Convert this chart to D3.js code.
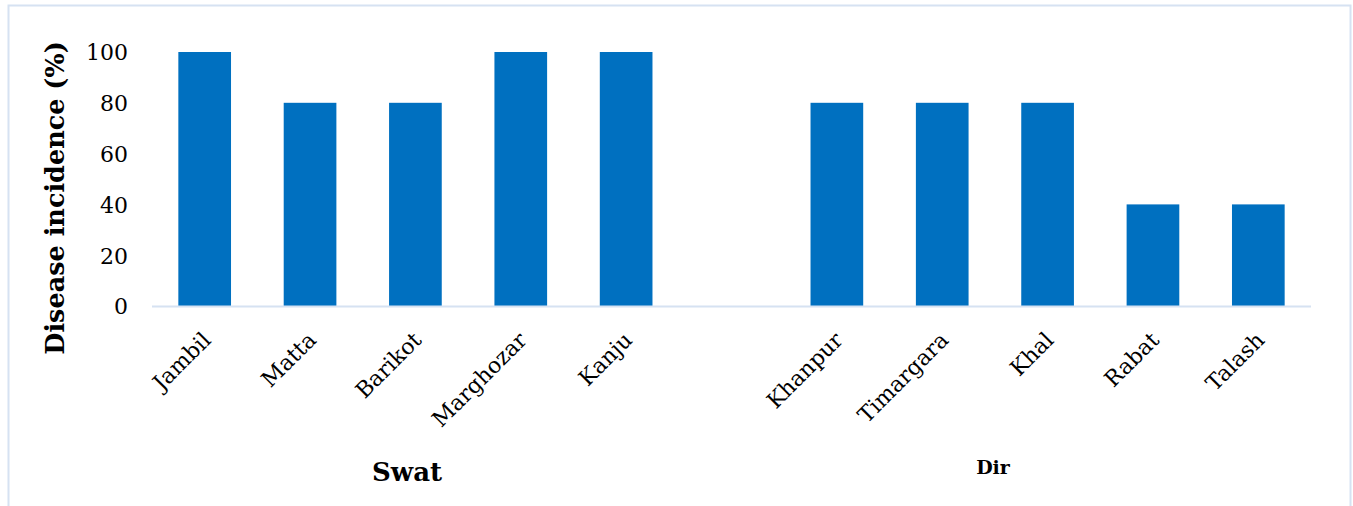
<!DOCTYPE html>
<html><head><meta charset="utf-8">
<script src="https://cdn.jsdelivr.net/npm/d3@7"></script>
<style>body{margin:0;background:#fff}svg{display:block}</style>
</head><body>
<script>
const categories = ["Jambil","Matta","Barikot","Marghozar","Kanju","","Khanpur","Timargara","Khal","Rabat","Talash"];
const values = [100,80,80,100,100,null,80,80,80,40,40];
const yTicks = [0,20,40,60,80,100];
const groups = [{name:"Swat", from:"Jambil", to:"Kanju"},{name:"Dir", from:"Khanpur", to:"Talash"}];

const W=1353,H=506;
const svg=d3.select("body").append("svg").attr("width",W).attr("height",H);
svg.append("rect").attr("x",8.5).attr("y",5.5).attr("width",1342).attr("height",510)
  .attr("fill","#fff").attr("stroke","#d6e2f2").attr("stroke-width",2);

const x=d3.scaleBand().domain(categories.map((c,i)=>i)).range([152,1311]).paddingInner(0.5).paddingOuter(0.25);
const y=d3.scaleLinear().domain([0,100]).range([306,52]);
const font="'DejaVu Serif', 'Liberation Serif', serif";

svg.append("g").selectAll("rect").data(values.map((v,i)=>({v,i})).filter(d=>d.v!=null)).join("rect")
  .attr("x",d=>x(d.i)).attr("width",x.bandwidth()).attr("y",d=>y(d.v)).attr("height",d=>y(0)-y(d.v))
  .attr("fill","#0070c0");

svg.append("line").attr("x1",152).attr("x2",1311).attr("y1",y(0)+0.5).attr("y2",y(0)+0.5)
  .attr("stroke","#d6e2f2").attr("stroke-width",2);

const ya=svg.append("g").attr("transform","translate(128,0)")
  .call(d3.axisLeft(y).tickValues(yTicks).tickSize(0).tickPadding(0));
ya.select(".domain").remove();
ya.selectAll("text").attr("font-family",font).attr("font-size",22).attr("fill","#000").attr("dy","0.36em");

const xa=svg.append("g").attr("transform",`translate(0,${y(0)})`)
  .call(d3.axisBottom(x).tickFormat(i=>categories[i]).tickSize(0));
xa.select(".domain").remove();
xa.selectAll("text").attr("font-family",font).attr("font-size",22).attr("fill","#000")
  .attr("text-anchor","end").attr("transform","translate(2,30) rotate(-45)").attr("dy","0.35em").attr("y",0).attr("x",0);

svg.append("text").attr("transform","translate(64,198) rotate(-90)").attr("text-anchor","middle")
  .attr("font-family",font).attr("font-weight","bold").attr("font-size",25.5).text("Disease incidence (%)");

const gx=[407,993], gs=[26,19], gy=[481,474];
groups.forEach((g,k)=>{
  svg.append("text").attr("x",gx[k]).attr("y",gy[k]).attr("text-anchor","middle")
    .attr("font-family",font).attr("font-weight","bold").attr("font-size",gs[k]).text(g.name);
});
</script>
</body></html>
